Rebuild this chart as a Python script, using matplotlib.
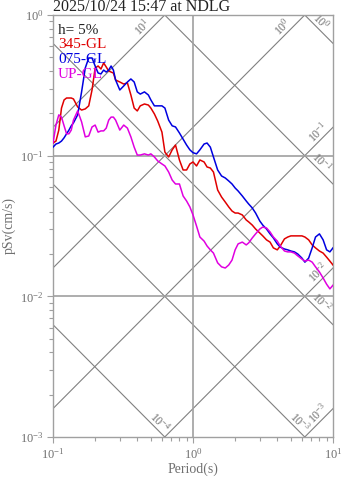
import numpy as np
import matplotlib
matplotlib.use('Agg')
import matplotlib.pyplot as plt

# Times-like font, like the reference
plt.rcParams['font.family'] = ['Liberation Serif', 'DejaVu Serif']
plt.rcParams['mathtext.fontset'] = 'custom'
plt.rcParams['mathtext.rm'] = 'Liberation Serif'

# ---- data (period in s, pSv in cm/s) ----
periods = [0.10, 0.105, 0.11, 0.115, 0.12, 0.125, 0.13, 0.135, 0.14, 0.15,
           0.16, 0.17, 0.18, 0.19, 0.20, 0.21, 0.22, 0.23, 0.24, 0.25,
           0.26, 0.27, 0.28, 0.30, 0.32, 0.34, 0.36, 0.38, 0.40, 0.42,
           0.45, 0.48, 0.50, 0.53, 0.56, 0.60, 0.63, 0.67, 0.71, 0.75,
           0.80, 0.85, 0.90, 0.95, 1.0, 1.06, 1.12, 1.2, 1.26, 1.33,
           1.4, 1.5, 1.6, 1.7, 1.8, 1.9, 2.0, 2.1, 2.25, 2.4,
           2.5, 2.65, 2.8, 3.0, 3.15, 3.35, 3.55, 3.75, 4.0, 4.2,
           4.5, 4.75, 5.0, 5.3, 5.6, 6.0, 6.3, 6.7, 7.1, 7.5,
           8.0, 8.5, 9.0, 9.5, 10.0]

sv_345 = [0.123, 0.127, 0.152, 0.218, 0.249, 0.257, 0.257, 0.257, 0.253, 0.222,
          0.211, 0.215, 0.226, 0.293, 0.420, 0.434, 0.413, 0.456, 0.427, 0.400,
          0.393, 0.387, 0.345, 0.334, 0.323, 0.329, 0.270, 0.218, 0.208, 0.226,
          0.233, 0.229, 0.218, 0.198, 0.176, 0.147, 0.106, 0.0979, 0.110, 0.119,
          0.0932, 0.0791, 0.0791, 0.0873, 0.0902, 0.0845, 0.0932, 0.0902, 0.0831, 0.0817,
          0.0765, 0.0570, 0.0508, 0.0468, 0.0432, 0.0404, 0.0391, 0.0391, 0.0379, 0.0349,
          0.0338, 0.0321, 0.0301, 0.0282, 0.0269, 0.0252, 0.0243, 0.0221, 0.0214, 0.0228,
          0.0256, 0.0264, 0.0269, 0.0269, 0.0269, 0.0269, 0.0264, 0.0252, 0.0232, 0.0221,
          0.0210, 0.0203, 0.0190, 0.0178, 0.0167]

sv_075 = [0.115, 0.121, 0.123, 0.127, 0.134, 0.143, 0.152, 0.163, 0.171, 0.195,
          0.284, 0.420, 0.495, 0.495, 0.434, 0.387, 0.381, 0.406, 0.393, 0.406,
          0.434, 0.406, 0.345, 0.293, 0.313, 0.334, 0.351, 0.334, 0.284, 0.274,
          0.284, 0.270, 0.249, 0.226, 0.226, 0.226, 0.218, 0.179, 0.163, 0.160,
          0.145, 0.131, 0.119, 0.110, 0.105, 0.103, 0.110, 0.121, 0.123, 0.115,
          0.0979, 0.0791, 0.0717, 0.0694, 0.0661, 0.0629, 0.0589, 0.0561, 0.0517, 0.0476,
          0.0453, 0.0425, 0.0391, 0.0343, 0.0321, 0.0301, 0.0278, 0.0260, 0.0236, 0.0224,
          0.0217, 0.0214, 0.0210, 0.0207, 0.0200, 0.0187, 0.0175, 0.0187, 0.0221, 0.0264,
          0.0278, 0.0252, 0.0214, 0.0207, 0.0221]

sv_up = [0.123, 0.165, 0.195, 0.188, 0.163, 0.143, 0.143, 0.152, 0.179, 0.208,
         0.174, 0.136, 0.138, 0.160, 0.165, 0.147, 0.150, 0.150, 0.157, 0.179,
         0.188, 0.188, 0.179, 0.152, 0.165, 0.157, 0.136, 0.115, 0.101, 0.101,
         0.103, 0.101, 0.103, 0.0979, 0.0917, 0.0873, 0.0845, 0.0765, 0.0671, 0.0629,
         0.0629, 0.0517, 0.0476, 0.0432, 0.0379, 0.0316, 0.0264, 0.0247, 0.0228, 0.0214,
         0.0203, 0.0173, 0.0162, 0.0159, 0.0167, 0.0181, 0.0214, 0.0236, 0.0243, 0.0232,
         0.0240, 0.0260, 0.0278, 0.0301, 0.0311, 0.0306, 0.0287, 0.0264, 0.0247, 0.0228,
         0.0210, 0.0207, 0.0207, 0.0203, 0.0194, 0.0184, 0.0178, 0.0181, 0.0175, 0.0162,
         0.0149, 0.0135, 0.0122, 0.0113, 0.0120]

series_names = ['345-GL', '075-GL', 'UP-GL']
series_colors = ['#e00000', '#0000e0', '#e000e0']

# tripartite reference lines
accel_levels = [1e1, 1e0, 1e-1, 1e-2, 1e-3]   # cm/s^2
disp_levels = [1e0, 1e-1, 1e-2, 1e-3, 1e-4]   # cm
level_labels = {1e1: '10^{1}', 1e0: '10^{0}', 1e-1: '10^{-1}',
                1e-2: '10^{-2}', 1e-3: '10^{-3}', 1e-4: '10^{-4}'}

GRAY = '#808080'
TXT_GRAY = '#707070'

fig = plt.figure(figsize=(3.47, 4.78), dpi=100)
ax = fig.add_axes([53/347, 41/478, 280/347, 422/478])
ax.set_xscale('log')
ax.set_yscale('log')
ax.set_xlim(0.1, 10)
ax.set_ylim(1e-3, 1)

tt = np.logspace(-1, 1, 50)
for a in accel_levels:
    ax.plot(tt, a * tt / (2 * np.pi), color=GRAY, lw=0.8, zorder=1)
for d in disp_levels:
    ax.plot(tt, 2 * np.pi * d / tt, color=GRAY, lw=0.8, zorder=1)

# grid at decades
ax.axvline(1.0, color='#a0a0a0', lw=1.2, zorder=1)
for yv in [1e-1, 1e-2]:
    ax.axhline(yv, color='#a0a0a0', lw=1.2, zorder=1)

# labels for the diagonal lines, placed near where each line leaves the box
def px_back(n):
    return 10 ** (n / 140.0)

for a in accel_levels:
    te = min(10.0, 2 * np.pi / a)
    se = a * te / (2 * np.pi)
    b = px_back(17 if te < 10.0 else 10)
    ax.text(te / b, se / b, r'$\mathdefault{%s}$' % level_labels[a],
            rotation=45, rotation_mode='anchor', ha='center', va='bottom',
            fontsize=8.5, color=TXT_GRAY, zorder=2)
for d in disp_levels:
    te = min(10.0, 2 * np.pi * d / 1e-3)
    se = 2 * np.pi * d / te
    b = px_back(17 if se > 1e-3 * 1.01 else 10)
    ax.text(te / b, se * b, r'$\mathdefault{%s}$' % level_labels[d],
            rotation=-45, rotation_mode='anchor', ha='center', va='bottom',
            fontsize=8.5, color=TXT_GRAY, zorder=2)

for vals, c in zip([sv_345, sv_075, sv_up], series_colors):
    ax.plot(periods, vals, color=c, lw=1.1, zorder=3)

# legend-like text block
ax.text(0.018, 0.963, 'h= 5%', transform=ax.transAxes, fontsize=11,
        color='#222222', va='center', ha='left')
for i, (name, c) in enumerate(zip(series_names, series_colors)):
    ax.text(0.018, 0.93 - i * 0.035, name, transform=ax.transAxes,
            fontsize=11, color=c, va='center', ha='left')

ax.set_title('2025/10/24 15:47 at NDLG', loc='left', fontsize=11.5,
             color='#222222', pad=1.5)
ax.set_xlabel('Period(s)', fontsize=10, color=TXT_GRAY)
ax.xaxis.set_label_coords(0.5, -0.076)
ax.xaxis.label.set_va('center')
ax.set_ylabel('pSv(cm/s)', fontsize=10, color=TXT_GRAY, labelpad=3)

for sp in ax.spines.values():
    sp.set_color('#a0a0a0')
    sp.set_linewidth(1.0)
ax.tick_params(which='both', direction='out', color='#a0a0a0',
               labelcolor=TXT_GRAY, labelsize=9, top=False, right=False)
ax.tick_params(which='major', length=4.5, width=0.8)
ax.tick_params(which='minor', length=3, width=0.8)
ax.tick_params(axis='x', pad=2.5)
ax.tick_params(axis='y', pad=2.5)

fig.savefig('out.png', dpi=100)
